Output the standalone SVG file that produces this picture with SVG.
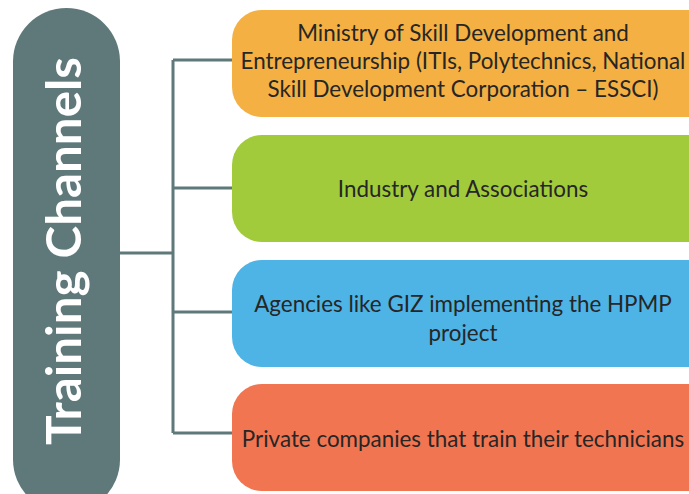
<svg xmlns="http://www.w3.org/2000/svg" width="689" height="494" viewBox="0 0 689 494">
  <style>
    .box { stroke: none; }
    .lbl { font-family: Lato, "Open Sans", "Liberation Sans", sans-serif; font-size: 22.4px; fill: #262626; text-anchor: middle; }
    .title { font-family: Lato, "Open Sans", "Liberation Sans", sans-serif; font-weight: bold; font-size: 48px; fill: #ffffff; text-anchor: middle; }
    .wire { fill: none; stroke: #5f797b; stroke-width: 3; }
  </style>
  <rect width="689" height="494" fill="#ffffff"/>

  <!-- connectors -->
  <g id="connectors">
    <path class="wire" d="M120 253 H173"/>
    <path class="wire" d="M173 60 V433"/>
    <path class="wire" d="M173 60 H233 M173 188 H233 M173 312 H233 M173 433 H233"/>
  </g>

  <g id="training-channels">
    <rect x="13" y="8" width="107" height="505" rx="53.5" fill="#5f797b"/>
    <text class="title" transform="translate(80.5 251) rotate(-90)" textLength="388" lengthAdjust="spacingAndGlyphs">Training Channels</text>
  </g>

  <g id="ministry">
    <rect class="box" x="232" y="10" width="490" height="107" rx="30" fill="#f4b042"/>
    <text class="lbl" x="463" y="41">Ministry of Skill Development and</text>
    <text class="lbl" x="463" y="69">Entrepreneurship (ITIs, Polytechnics, National</text>
    <text class="lbl" x="463" y="97">Skill Development Corporation – ESSCI)</text>
  </g>

  <g id="industry">
    <rect class="box" x="232" y="135" width="490" height="107" rx="30" fill="#a2cb3b"/>
    <text class="lbl" x="463" y="197">Industry and Associations</text>
  </g>

  <g id="agencies">
    <rect class="box" x="232" y="260" width="490" height="107" rx="30" fill="#4db4e5"/>
    <text class="lbl" x="463" y="312">Agencies like GIZ implementing the HPMP</text>
    <text class="lbl" x="463" y="341">project</text>
  </g>

  <g id="private">
    <rect class="box" x="232" y="384" width="490" height="107" rx="30" fill="#f27551"/>
    <text class="lbl" x="463" y="447">Private companies that train their technicians</text>
  </g>
</svg>
